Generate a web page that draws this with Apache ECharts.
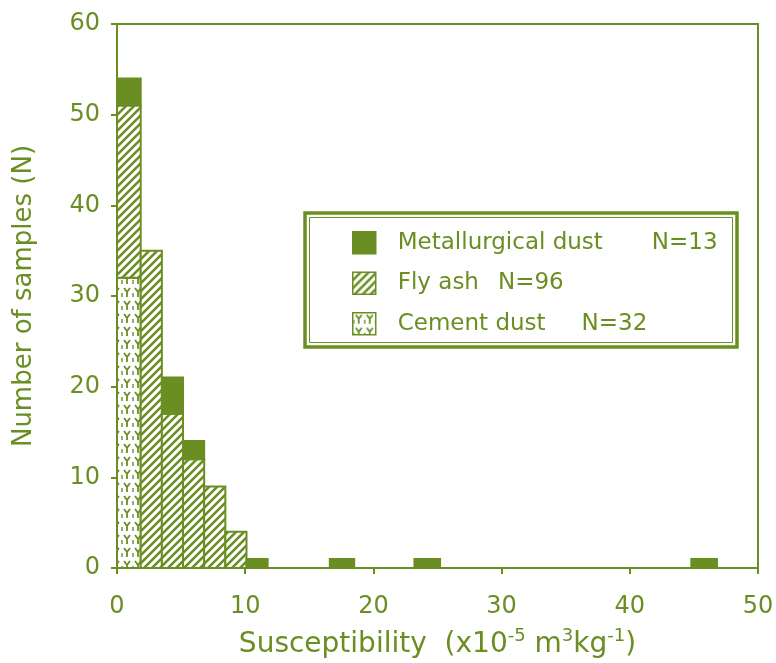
<!DOCTYPE html>
<html>
<head>
<meta charset="utf-8">
<script src="https://cdn.jsdelivr.net/npm/echarts@6/dist/echarts.min.js"></script>
<style>
html,body{margin:0;padding:0;background:#fff;}
#chart{width:776px;height:663px;}
</style>
</head>
<body>
<div id="chart"></div>
<script>
// ---- data ----
const seriesNames = ['Metallurgical dust', 'Fly ash', 'Cement dust'];
const sampleCounts = ['N=13', 'N=96', 'N=32'];
const binStart = [0, 1.85, 3.5, 5.15, 6.8, 8.45, 10.1, 16.6, 23.2, 44.8];
const binEnd   = [1.85, 3.5, 5.15, 6.8, 8.45, 10.1, 11.75, 18.5, 25.2, 46.8];
const cementDust        = [32, 0, 0, 0, 0, 0, 0, 0, 0, 0];
const flyAsh            = [19, 35, 17, 12, 9, 4, 0, 0, 0, 0];
const metallurgicalDust = [3, 0, 4, 2, 0, 0, 1, 1, 1, 1];
const xTicks = [0, 10, 20, 30, 40, 50];
const yTicks = [0, 10, 20, 30, 40, 50, 60];

const GREEN = '#6b8e23';
const FONT = 'DejaVu Sans';

// ---- patterns ----
function hatchPattern() {
  const c = document.createElement('canvas');
  c.width = 8; c.height = 8;
  const g = c.getContext('2d');
  g.fillStyle = '#fff'; g.fillRect(0, 0, 8, 8);
  g.strokeStyle = GREEN; g.lineWidth = 2.6; g.lineCap = 'square';
  g.beginPath();
  g.moveTo(-2, 10); g.lineTo(10, -2);
  g.moveTo(-6, 6); g.lineTo(6, -6);
  g.moveTo(2, 14); g.lineTo(14, 2);
  g.stroke();
  return {image: c, repeat: 'repeat'};
}
function cementPattern() {
  const c = document.createElement('canvas');
  c.width = 11; c.height = 13;
  const g = c.getContext('2d');
  g.fillStyle = '#fff'; g.fillRect(0, 0, 11, 13);
  g.strokeStyle = GREEN; g.lineWidth = 1.8;
  g.beginPath();
  g.moveTo(3, 2); g.lineTo(6, 6); g.lineTo(9, 2);
  g.moveTo(6, 6); g.lineTo(6, 11);
  g.stroke();
  g.lineWidth = 1.4;
  g.beginPath();
  g.moveTo(1, 7); g.lineTo(1, 11);
  g.stroke();
  return {image: c, repeat: 'repeat'};
}

// ---- stacked rectangles ----
const stackOrder = [cementDust, flyAsh, metallurgicalDust];
const base = binStart.map(() => 0);
const stacked = stackOrder.map(vals => {
  const items = [];
  vals.forEach((v, i) => {
    if (v > 0) {
      items.push([binStart[i], binEnd[i], base[i], base[i] + v]);
      base[i] += v;
    }
  });
  return items;
});

function renderItem(params, api) {
  const p0 = api.coord([api.value(0), api.value(2)]);
  const p1 = api.coord([api.value(1), api.value(3)]);
  return {
    type: 'rect',
    shape: {x: p0[0], y: p1[1], width: p1[0] - p0[0], height: p0[1] - p1[1]},
    style: api.style({stroke: GREEN, lineWidth: 2})
  };
}

const fills = [GREEN, hatchPattern(), cementPattern()];
const dataFor = [stacked[2], stacked[1], stacked[0]];
const gaps = [49, 19, 36];

const series = [2, 1, 0].map(k => ({
  name: seriesNames[k],
  type: 'custom',
  renderItem: renderItem,
  encode: {x: [0, 1], y: [2, 3]},
  itemStyle: {color: fills[k], borderColor: GREEN, borderWidth: 2},
  data: dataFor[k],
  z: 2
}));

const rich = {};
seriesNames.forEach((n, i) => {
  rich['n' + i] = {fontSize: 23, fontFamily: FONT, color: GREEN, padding: [0, 0, 0, gaps[i]]};
});

const chart = echarts.init(document.getElementById('chart'), null, {renderer: 'canvas'});
chart.setOption({
  animation: false,
  backgroundColor: '#fff',
  grid: {left: 117, right: 18, top: 24, bottom: 95, show: true, borderColor: GREEN, borderWidth: 2,
         backgroundColor: 'transparent', containLabel: false, outerBoundsMode: 'none'},
  xAxis: {
    type: 'value', min: xTicks[0], max: xTicks[xTicks.length - 1], interval: xTicks[1] - xTicks[0],
    name: 'Susceptibility  (x10{sup|-5} m{sup|3}kg{sup|-1})',
    nameLocation: 'middle', nameGap: 59,
    nameTextStyle: {
      fontSize: 28, fontFamily: FONT, color: GREEN, lineHeight: 36,
      rich: {sup: {fontSize: 18, fontFamily: FONT, color: GREEN, lineHeight: 18, verticalAlign: 'top'}}
    },
    axisLine: {lineStyle: {color: GREEN, width: 2}},
    axisTick: {inside: false, length: 6, lineStyle: {color: GREEN, width: 2}},
    axisLabel: {fontSize: 24, fontFamily: FONT, color: GREEN, margin: 27},
    splitLine: {show: false}
  },
  yAxis: {
    type: 'value', min: yTicks[0], max: yTicks[yTicks.length - 1], interval: yTicks[1] - yTicks[0],
    name: 'Number of samples (N)',
    nameLocation: 'middle', nameGap: 80,
    nameTextStyle: {fontSize: 26, fontFamily: FONT, color: GREEN},
    axisLine: {lineStyle: {color: GREEN, width: 2}},
    axisTick: {inside: false, length: 6, lineStyle: {color: GREEN, width: 2}},
    axisLabel: {fontSize: 24, fontFamily: FONT, color: GREEN, margin: 17},
    splitLine: {show: false}
  },
  legend: {
    orient: 'vertical', left: 347, top: 226,
    itemWidth: 23, itemHeight: 22, itemGap: 17,
    icon: 'rect',
    data: seriesNames,
    selectedMode: false,
    itemStyle: {borderColor: GREEN, borderWidth: 1.5},
    textStyle: {fontSize: 23, fontFamily: FONT, color: GREEN, padding: [0, 0, 0, 17], rich: rich},
    formatter: name => {
      const i = seriesNames.indexOf(name);
      return name + '{n' + i + '|' + sampleCounts[i] + '}';
    }
  },
  graphic: [
    {type: 'rect', shape: {x: 305, y: 213, width: 432, height: 134}, style: {fill: 'none', stroke: GREEN, lineWidth: 3.5}, z: 1},
    {type: 'rect', shape: {x: 309.5, y: 217.5, width: 423, height: 125}, style: {fill: 'none', stroke: GREEN, lineWidth: 1}, z: 1}
  ],
  series: series
});
</script>
</body>
</html>
